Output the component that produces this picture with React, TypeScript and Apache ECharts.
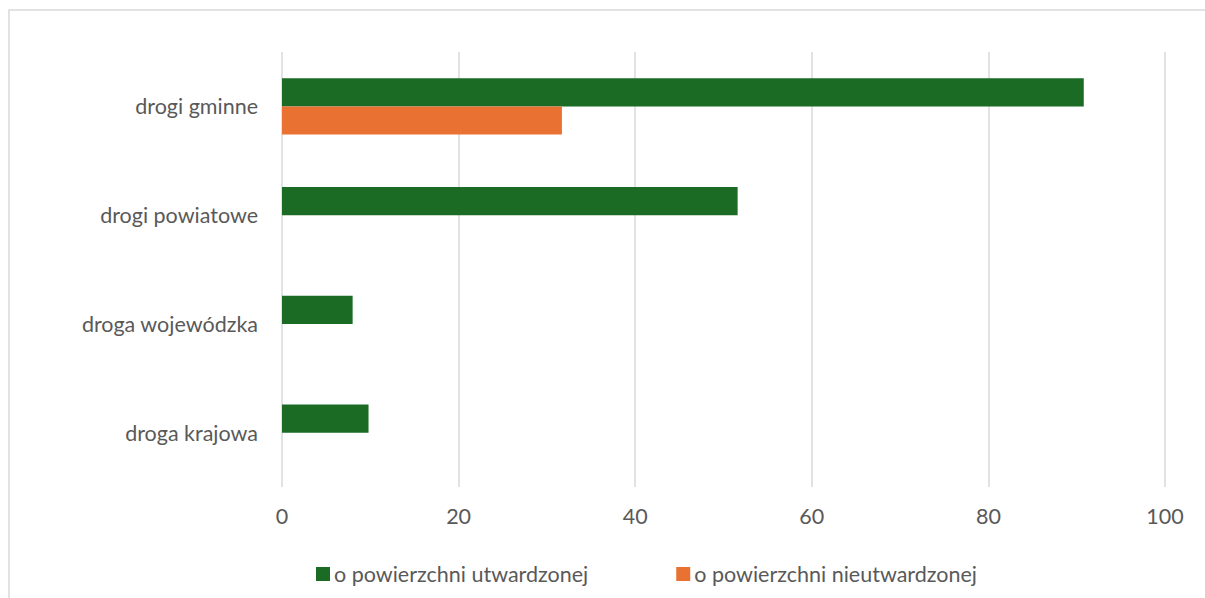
import React, { useEffect, useRef } from "react";
import * as echarts from "echarts";

const categories = ["drogi gminne", "drogi powiatowe", "droga wojewódzka", "droga krajowa"];
const seriesNames = ["o powierzchni utwardzonej", "o powierzchni nieutwardzonej"];
const utwardzone = [90.8, 51.6, 8.0, 9.8];
const nieutwardzone: (number | null)[] = [31.7, null, null, null];
const xTicks = [0, 20, 40, 60, 80, 100];

const FONT = "Lato, 'Liberation Sans', sans-serif";
const TEXT = "#595959";
const FS = 21.5;

export default function App() {
  const ref = useRef<HTMLDivElement>(null);
  useEffect(() => {
    document.body.style.margin = "0";
    const chart = echarts.init(ref.current!, null, { renderer: "svg" });
    chart.setOption({
      animation: false,
      backgroundColor: "#ffffff",
      textStyle: { fontFamily: FONT },
      graphic: [
        {
          type: "rect",
          shape: { x: 9, y: 10, width: 1220, height: 620 },
          style: { fill: "none", stroke: "#d9d9d9", lineWidth: 1.5 },
          silent: true,
        },
      ],
      grid: { left: 282, right: 40, top: 52, bottom: 111, containLabel: false },
      legend: {
        left: 311,
        top: 558,
        itemWidth: 14,
        itemHeight: 14,
        itemGap: 88,
        icon: "rect",
        textStyle: { color: TEXT, fontSize: FS, fontFamily: FONT, padding: [0, 0, 0, -1] },
        data: seriesNames,
      },
      xAxis: {
        type: "value",
        min: xTicks[0],
        max: xTicks[xTicks.length - 1],
        interval: 20,
        axisLine: { show: false },
        axisTick: { show: false },
        axisLabel: { color: TEXT, fontSize: FS, fontFamily: FONT, margin: 18 },
        splitLine: { show: true, lineStyle: { color: "#d9d9d9", width: 1.5 } },
      },
      yAxis: {
        type: "category",
        inverse: true,
        data: categories,
        axisLine: { show: false },
        axisTick: { show: false },
        axisLabel: { color: TEXT, fontSize: FS, fontFamily: FONT, margin: 24 },
      },
      series: [
        {
          name: seriesNames[0],
          type: "bar",
          data: utwardzone,
          itemStyle: { color: "#1b6b24" },
          barGap: "0%",
          barCategoryGap: "48.5%",
        },
        {
          name: seriesNames[1],
          type: "bar",
          data: nieutwardzone,
          itemStyle: { color: "#e97132" },
          barGap: "0%",
          barCategoryGap: "48.5%",
        },
      ],
    });
    return () => chart.dispose();
  }, []);
  return <div ref={ref} style={{ width: 1205, height: 598 }} />;
}
